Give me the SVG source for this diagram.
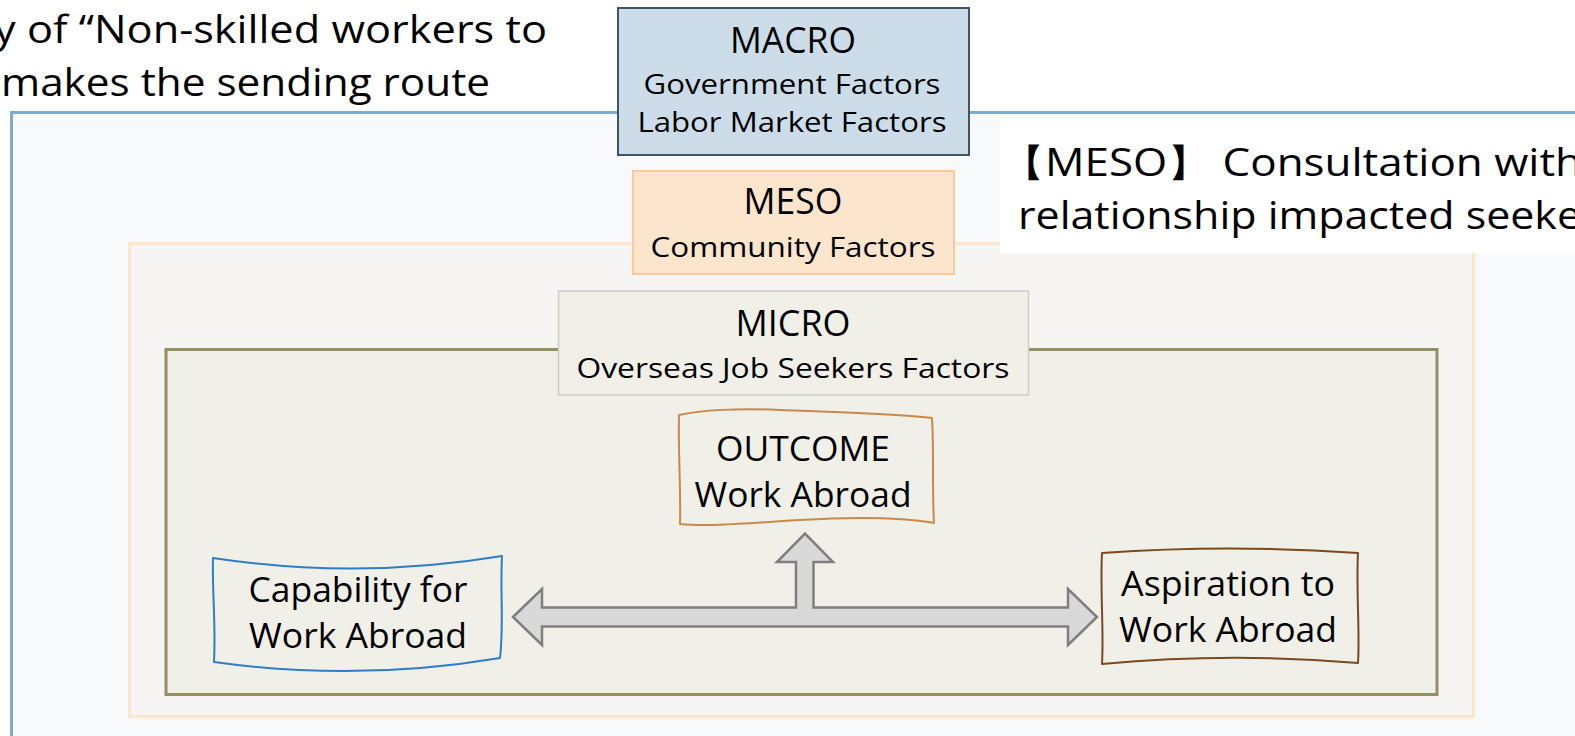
<svg xmlns="http://www.w3.org/2000/svg" width="1575" height="736" viewBox="0 0 1575 736">
<style>
text{font-family:"Open Sans","Noto Sans","DejaVu Sans",sans-serif;fill:#000;}
.c{text-anchor:middle;}
.big{font-size:36px;}
.sm{font-size:28px;}
.nb{font-size:35px;}
.wave{fill:none;stroke-width:2;stroke-linejoin:round;}
</style>
<rect width="1575" height="736" fill="#ffffff"/>
<g id="macro-frame"><rect x="11.5" y="112.5" width="1600" height="660" fill="#f8f9fb" stroke="#7eaad0" stroke-width="3"/></g>
<g id="intro-text">
<text x="-6" y="43" font-size="38" textLength="553" lengthAdjust="spacingAndGlyphs">y of “Non-skilled workers to</text>
<text x="1" y="96" font-size="38" textLength="489" lengthAdjust="spacingAndGlyphs">makes the sending route</text>
</g>
<g id="meso-frame"><rect x="129.5" y="243.5" width="1344" height="473" fill="#f7f4f4" stroke="#fde5c9" stroke-width="3"/></g>
<g id="micro-frame"><rect x="166" y="349.5" width="1271" height="345" fill="#f1f0e8" stroke="#948f5e" stroke-width="3"/></g>
<g id="macro">
<rect x="618" y="8" width="351" height="147" fill="#ccdde9" stroke="#3f5565" stroke-width="2"/>
<text class="c big" x="793" y="53" textLength="126" lengthAdjust="spacingAndGlyphs">MACRO</text>
<text class="c sm" x="792" y="94" textLength="297" lengthAdjust="spacingAndGlyphs">Government Factors</text>
<text class="c sm" x="792" y="132" textLength="309" lengthAdjust="spacingAndGlyphs">Labor Market Factors</text>
</g>
<g id="meso">
<rect x="633" y="171" width="321" height="103" fill="#fce5cd" stroke="#f9cb9c" stroke-width="2"/>
<text class="c big" x="793" y="214" textLength="99" lengthAdjust="spacingAndGlyphs">MESO</text>
<text class="c sm" x="793" y="257" textLength="285" lengthAdjust="spacingAndGlyphs">Community Factors</text>
</g>
<g id="micro">
<rect x="558.5" y="291" width="470" height="104" fill="#f0f0e8" stroke="#c8d0c0" stroke-width="1.5"/>
<text class="c big" x="793" y="336" textLength="115" lengthAdjust="spacingAndGlyphs">MICRO</text>
<text class="c sm" x="793" y="378" textLength="433" lengthAdjust="spacingAndGlyphs">Overseas Job Seekers Factors</text>
</g>
<g id="meso-note">
<rect x="1000" y="119" width="600" height="134" fill="#ffffff"/>
<text x="1001" y="176" font-size="38" textLength="581" lengthAdjust="spacingAndGlyphs">【MESO】 Consultation with</text>
<text x="1018" y="229" font-size="38" textLength="563" lengthAdjust="spacingAndGlyphs">relationship impacted seeke</text>
</g>
<g id="outcome">
<path class="wave" stroke="#c8894a" d="M 679,415 C 700,410 740,408 780,410 C 840,412 900,414 932,418 C 934,450 932,490 934,523 C 900,517 850,517 800,520 C 750,523 710,527 680,524 C 681,490 678,450 679,415 Z"/>
<text class="c nb" x="803" y="461" textLength="174" lengthAdjust="spacingAndGlyphs">OUTCOME</text>
<text class="c nb" x="803" y="507" textLength="217" lengthAdjust="spacingAndGlyphs">Work Abroad</text>
</g>
<g id="capability">
<path class="wave" stroke="#2f7dc5" d="M 213,558 Q 358,580 502,556 C 500,590 504,625 500,658 Q 358,682 214,662 C 216,625 212,590 213,558 Z"/>
<text class="c nb" x="358" y="602" textLength="219" lengthAdjust="spacingAndGlyphs">Capability for</text>
<text class="c nb" x="358" y="648" textLength="218" lengthAdjust="spacingAndGlyphs">Work Abroad</text>
</g>
<g id="aspiration">
<path class="wave" stroke="#7a4a1e" d="M 1102,553 Q 1230,544 1358,553 C 1356,590 1360,630 1358,663 Q 1230,652 1102,664 C 1104,630 1100,590 1102,553 Z"/>
<text class="c nb" x="1228" y="596" textLength="214" lengthAdjust="spacingAndGlyphs">Aspiration to</text>
<text class="c nb" x="1228" y="642" textLength="218" lengthAdjust="spacingAndGlyphs">Work Abroad</text>
</g>
<g id="connectors">
<path d="M 513,617 L 542,589 L 542,607.5 L 796,607.5 L 796,562 L 777,562 L 805,533.5 L 833,562 L 813.5,562 L 813.5,607.5 L 1068,607.5 L 1068,589 L 1097,617 L 1068,645 L 1068,626.5 L 542,626.5 L 542,645 Z" fill="#d9d9d9" stroke="#7f7f7f" stroke-width="2.5" stroke-linejoin="miter"/>
</g>
</svg>
